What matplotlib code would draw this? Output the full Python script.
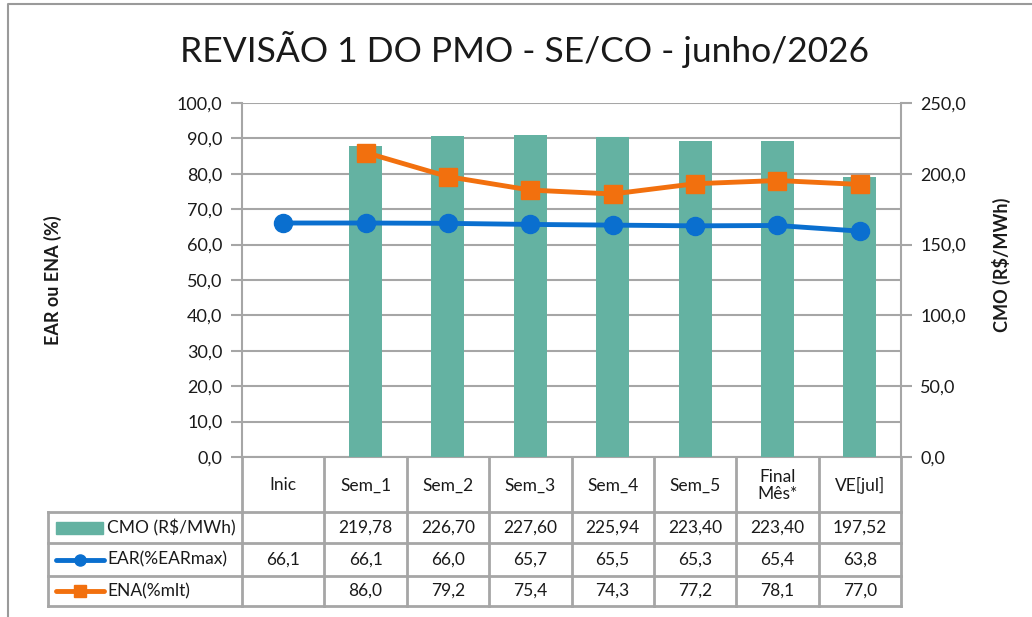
import numpy as np
import matplotlib
matplotlib.use("Agg")
import matplotlib.pyplot as plt
from matplotlib.patches import Rectangle
from matplotlib.lines import Line2D

# -----------------------------
# Data
# -----------------------------
categories = ["Inic", "Sem_1", "Sem_2", "Sem_3", "Sem_4", "Sem_5", "Final\nMês*", "VE[jul]"]
cmo = [None, 219.78, 226.70, 227.60, 225.94, 223.40, 223.40, 197.52]
ear = [66.1, 66.1, 66.0, 65.7, 65.5, 65.3, 65.4, 63.8]
ena = [None, 86.0, 79.2, 75.4, 74.3, 77.2, 78.1, 77.0]

series_names = ["CMO (R$/MWh)", "EAR(%EARmax)", "ENA(%mlt)"]
title = "REVISÃO 1 DO PMO - SE/CO - junho/2026"

# -----------------------------
# Style
# -----------------------------
plt.rcParams["font.family"] = ["Lato", "DejaVu Sans"]
c_bar = "#64B2A2"
c_ear = "#0A6FCF"
c_ena = "#F2700E"
c_grid = "#A6A6A6"
c_txt = "#1A1A1A"

W, H = 1032, 617
fig = plt.figure(figsize=(W / 100, H / 100), dpi=100)

# plot area in pixels
px_l, px_r = 242, 901
px_t, px_b = 103, 457
n = len(categories)
col_w = (px_r - px_l) / n

ax = fig.add_axes([px_l / W, 1 - px_b / H, (px_r - px_l) / W, (px_b - px_t) / H])
ax2 = ax.twinx()

x = np.arange(n) + 0.5
ax.set_xlim(0, n)
ax.set_ylim(0, 100)
ax2.set_ylim(0, 250)

ax.set_yticks(np.arange(0, 101, 10))
ax.set_yticklabels([f"{v:.1f}".replace(".", ",") for v in np.arange(0, 101, 10)])
ax2.set_yticks(np.arange(0, 251, 50))
ax2.set_yticklabels([f"{v:.1f}".replace(".", ",") for v in np.arange(0, 251, 50)])
ax.set_xticks([])
ax.grid(axis="y", color=c_grid, lw=1.5)
ax.set_axisbelow(True)

for a in (ax, ax2):
    a.spines["top"].set_visible(False)
    for s in ("left", "right", "bottom"):
        a.spines[s].set_color(c_grid)
        a.spines[s].set_linewidth(1.5)
    a.tick_params(axis="y", length=8, width=1.5, color=c_grid, labelsize=13,
                  labelcolor=c_txt, pad=6)
ax2.spines["left"].set_visible(False)
ax.spines["right"].set_visible(False)
ax2.spines["bottom"].set_visible(False)

ax.set_ylabel("EAR ou ENA (%)", fontsize=13, fontweight="bold", color=c_txt)
ax.yaxis.set_label_coords(62 / W, 1 - 280 / H, transform=fig.transFigure)
ax2.set_ylabel("CMO (R$/MWh)", fontsize=13, fontweight="bold", color=c_txt)
ax2.yaxis.set_label_coords(992 / W, 1 - 265 / H, transform=fig.transFigure)

# bars (right axis)
bx = [xi for xi, v in zip(x, cmo) if v is not None]
bv = [v for v in cmo if v is not None]
ax2.bar(bx, bv, width=0.4, color=c_bar, zorder=2)

# lines (left axis scale, drawn above bars)
ex = [xi for xi, v in zip(x, ear) if v is not None]
ev = [v for v in ear if v is not None]
nx = [xi for xi, v in zip(x, ena) if v is not None]
nv = [v for v in ena if v is not None]
ax2.plot(ex, ev, color=c_ear, lw=3.5, marker="o", ms=13, transform=ax.transData, zorder=3)
ax2.plot(nx, nv, color=c_ena, lw=3.5, marker="s", ms=13, transform=ax.transData, zorder=4)

fig.text(525 / W, 1 - 50 / H, title, ha="center", va="center", fontsize=25.5, color=c_txt)

# -----------------------------
# Data table (pixel coords overlay)
# -----------------------------
ov = fig.add_axes([0, 0, 1, 1], zorder=-1)
ov.set_xlim(0, W)
ov.set_ylim(H, 0)
ov.axis("off")

# outer chart border
ov.plot([8, 8, W + 5], [H + 5, 4, 4], color="#9A9A9A", lw=1.5)

row_y = [457, 512, 543, 576, 606]
leg_l = 48
tlw = 2.0
for yy in row_y[1:]:
    ov.plot([leg_l, px_r], [yy, yy], color=c_grid, lw=tlw)
for i in range(n + 1):
    xx = px_l + i * col_w
    ov.plot([xx, xx], [row_y[0], row_y[-1]], color=c_grid, lw=tlw)
ov.plot([leg_l, leg_l], [row_y[1], row_y[-1]], color=c_grid, lw=tlw)

# header row
for i, c in enumerate(categories):
    ov.text(px_l + (i + 0.5) * col_w, (row_y[0] + row_y[1]) / 2 + 1, c, ha="center",
            va="center", fontsize=12.5, color=c_txt, linespacing=1.1)

rows = [
    [None if v is None else f"{v:.2f}".replace(".", ",") for v in cmo],
    [None if v is None else f"{v:.1f}".replace(".", ",") for v in ear],
    [None if v is None else f"{v:.1f}".replace(".", ",") for v in ena],
]
for r, vals in enumerate(rows):
    yc = (row_y[r + 1] + row_y[r + 2]) / 2
    for i, s in enumerate(vals):
        if s is not None:
            ov.text(px_l + (i + 0.5) * col_w, yc, s, ha="center", va="center",
                    fontsize=12.5, color=c_txt)
    ov.text(107, yc, series_names[r], ha="left", va="center", fontsize=12.5, color=c_txt)

# legend keys
yc = (row_y[1] + row_y[2]) / 2
ov.add_patch(Rectangle((56, yc - 6), 47, 12, color=c_bar))
yc = (row_y[2] + row_y[3]) / 2
ov.add_line(Line2D([56, 80, 104], [yc, yc, yc], color=c_ear, lw=3.5, marker="o", ms=8,
                   markevery=[1], solid_capstyle="round"))
yc = (row_y[3] + row_y[4]) / 2
ov.add_line(Line2D([56, 80, 104], [yc, yc, yc], color=c_ena, lw=3.5, marker="s", ms=8,
                   markevery=[1], solid_capstyle="round"))

fig.savefig("out.png", dpi=100)
